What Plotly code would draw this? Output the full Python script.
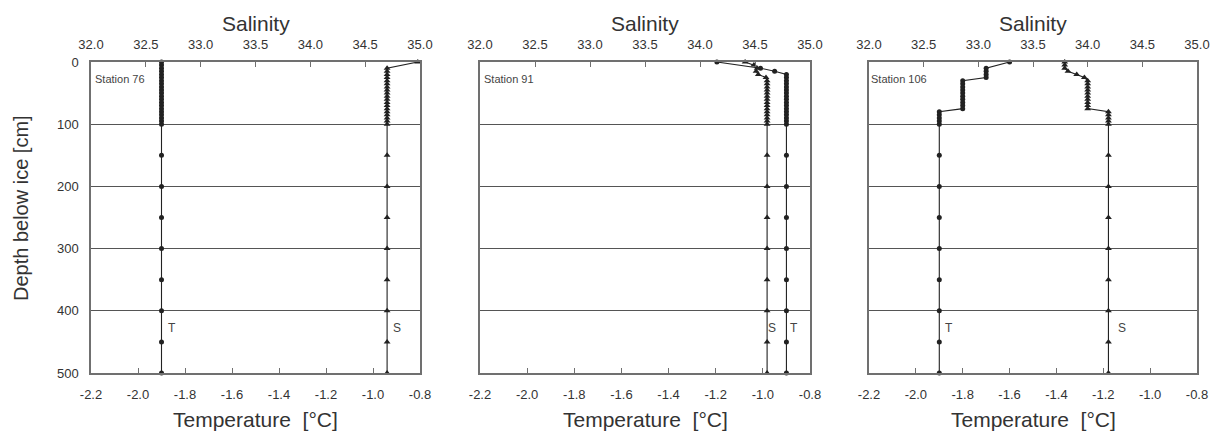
import plotly.graph_objects as go

# ---------------- data ----------------
stations = ["Station 76", "Station 91", "Station 106"]

# Station 76
depth76_T = [0, 5, 10, 15, 20, 25, 30, 35, 40, 45, 50, 55, 60, 65, 70, 75, 80, 85, 90, 95, 100,
             150, 200, 250, 300, 350, 400, 450, 500]
temp76 = [-1.90, -1.90, -1.90, -1.90, -1.90, -1.90, -1.90, -1.90, -1.90, -1.90, -1.90, -1.90,
          -1.90, -1.90, -1.90, -1.90, -1.90, -1.90, -1.90, -1.90, -1.90,
          -1.90, -1.90, -1.90, -1.90, -1.90, -1.90, -1.90, -1.90]
depth76_S = [0, 10, 15, 20, 25, 30, 35, 40, 45, 50, 55, 60, 65, 70, 75, 80, 85, 90, 95, 100,
             150, 200, 250, 300, 350, 400, 450, 500]
sal76 = [34.98, 34.70, 34.70, 34.70, 34.70, 34.70, 34.70, 34.70, 34.70, 34.70, 34.70, 34.70,
         34.70, 34.70, 34.70, 34.70, 34.70, 34.70, 34.70, 34.70,
         34.70, 34.70, 34.70, 34.70, 34.70, 34.70, 34.70, 34.70]

# Station 91
depth91_T = [0, 10, 15, 20, 25, 30, 35, 40, 45, 50, 55, 60, 65, 70, 75, 80, 85, 90, 95, 100,
             150, 200, 250, 300, 350, 400, 450, 500]
temp91 = [-1.195, -1.01, -0.95, -0.90, -0.90, -0.90, -0.90, -0.90, -0.90, -0.90, -0.90, -0.90,
          -0.90, -0.90, -0.90, -0.90, -0.90, -0.90, -0.90, -0.90,
          -0.90, -0.90, -0.90, -0.90, -0.90, -0.90, -0.90, -0.90]
depth91_S = [0, 5, 10, 15, 20, 25, 30, 35, 40, 45, 50, 55, 60, 65, 70, 75, 80, 85, 90, 95, 100,
             150, 200, 250, 300, 350, 400, 450, 500]
sal91 = [34.41, 34.49, 34.52, 34.51, 34.53, 34.60, 34.61, 34.61, 34.61, 34.61, 34.61, 34.61,
         34.61, 34.61, 34.61, 34.61, 34.61, 34.61, 34.61, 34.61, 34.61,
         34.61, 34.61, 34.61, 34.61, 34.61, 34.61, 34.61, 34.61]

# Station 106
depth106_T = [0, 10, 15, 20, 25, 30, 35, 40, 45, 50, 55, 60, 65, 70, 75, 80, 85, 90, 95, 100,
              150, 200, 250, 300, 350, 400, 450, 500]
temp106 = [-1.60, -1.70, -1.70, -1.70, -1.70, -1.80, -1.80, -1.80, -1.80, -1.80, -1.80, -1.80,
           -1.80, -1.80, -1.80, -1.90, -1.90, -1.90, -1.90, -1.90,
           -1.90, -1.90, -1.90, -1.90, -1.90, -1.90, -1.90, -1.90]
depth106_S = [0, 5, 10, 15, 20, 25, 30, 35, 40, 45, 50, 55, 60, 65, 70, 75, 80, 85, 90, 95, 100,
              150, 200, 250, 300, 350, 400, 450, 500]
sal106 = [33.79, 33.79, 33.79, 33.82, 33.90, 33.97, 34.00, 34.00, 34.00, 34.00, 34.00, 34.00,
          34.00, 34.00, 34.00, 34.00, 34.19, 34.19, 34.19, 34.19, 34.19,
          34.19, 34.19, 34.19, 34.19, 34.19, 34.19, 34.19, 34.19]

temp_depths = [depth76_T, depth91_T, depth106_T]
temps = [temp76, temp91, temp106]
sal_depths = [depth76_S, depth91_S, depth106_S]
sals = [sal76, sal91, sal106]

# label positions (temperature-axis units, depth)
T_label_x = [-1.855, -0.868, -1.858]
S_label_x = [-0.898, -0.961, -1.120]
label_depth = 428

temp_ticks = [-2.2, -2.0, -1.8, -1.6, -1.4, -1.2, -1.0, -0.8]
sal_ticks = [32.0, 32.5, 33.0, 33.5, 34.0, 34.5, 35.0]
depth_ticks = [0, 100, 200, 300, 400, 500]

# ---------------- layout geometry ----------------
W, H = 1229, 433
px_domains = [(91, 420), (480, 810), (869, 1197)]
ydom = [1 - 373 / H, 1 - 62 / H]

FONT = "Liberation Sans, Arial, Helvetica, sans-serif"
INK = "#222222"
FRAME = "#707070"

fig = go.Figure()
layout = dict(
    width=W, height=H,
    margin=dict(l=0, r=0, t=0, b=0, autoexpand=False),
    paper_bgcolor="white", plot_bgcolor="white",
    showlegend=False,
    font=dict(family=FONT, color="#333333"),
)

annotations = []
for i in range(3):
    tx = "x" if i == 0 else f"x{2 * i + 1}"
    sx = f"x{2 * i + 2}"
    yy = "y" if i == 0 else f"y{i + 1}"
    tkey = "xaxis" if i == 0 else f"xaxis{2 * i + 1}"
    skey = f"xaxis{2 * i + 2}"
    ykey = "yaxis" if i == 0 else f"yaxis{i + 1}"
    d0, d1 = px_domains[i]
    dom = [d0 / W, d1 / W]

    # temperature profile (dots)
    fig.add_trace(go.Scatter(
        x=temps[i], y=temp_depths[i], xaxis=tx, yaxis=yy,
        mode="lines+markers", cliponaxis=False,
        line=dict(color=INK, width=1.1),
        marker=dict(symbol="circle", size=5, color=INK),
        name="T"))
    # salinity profile (triangles)
    fig.add_trace(go.Scatter(
        x=sals[i], y=sal_depths[i], xaxis=sx, yaxis=yy,
        mode="lines+markers", cliponaxis=False,
        line=dict(color=INK, width=1.1),
        marker=dict(symbol="triangle-up", size=6, color=INK),
        name="S"))

    layout[tkey] = dict(
        domain=dom, anchor=yy, side="bottom", range=[-2.2, -0.8],
        tickmode="array", tickvals=temp_ticks,
        ticktext=[f"{v:.1f}" for v in temp_ticks],
        ticks="inside", ticklen=5, tickcolor=FRAME, tickwidth=1,
        ticklabelstandoff=9,
        tickfont=dict(size=13, color="#333333"),
        showgrid=False, zeroline=False, automargin=False,
        showline=True, linecolor=FRAME, linewidth=1.5, mirror=True,
    )
    layout[skey] = dict(
        overlaying=tx, anchor=yy, side="top", range=[32.0, 35.0],
        tickmode="array", tickvals=sal_ticks,
        ticktext=[f"{v:.1f}" for v in sal_ticks],
        ticks="inside", ticklen=5, tickcolor=FRAME, tickwidth=1,
        ticklabelstandoff=9,
        tickfont=dict(size=13, color="#333333"),
        showgrid=False, zeroline=False, showline=False, automargin=False,
    )
    layout[ykey] = dict(
        domain=ydom, anchor=tx, range=[500, 0],
        tickmode="array", tickvals=depth_ticks,
        showticklabels=(i == 0), ticks="",
        ticklabelstandoff=8,
        tickfont=dict(size=13, color="#333333"),
        showgrid=True, gridcolor="#555555", gridwidth=1.2,
        zeroline=False, showline=True, linecolor=FRAME, linewidth=1.5, mirror=True,
        automargin=False,
    )

    cx = (d0 + d1) / 2 / W
    annotations.append(dict(text="Salinity", xref="paper", yref="paper",
                            x=cx, y=1 - 23 / H, showarrow=False,
                            font=dict(size=21, color="#333333"),
                            xanchor="center", yanchor="middle"))
    annotations.append(dict(text="Temperature\u00a0\u00a0[°C]", xref="paper", yref="paper",
                            x=cx, y=1 - 419 / H, showarrow=False,
                            font=dict(size=21, color="#333333"),
                            xanchor="center", yanchor="middle"))
    annotations.append(dict(text=stations[i], xref="paper",
                            yref="paper", x=(d0 + 2 if i < 2 else d0) / W,
                            y=1 - 79 / H, showarrow=False,
                            font=dict(size=11, color="#444444"),
                            xanchor="left", yanchor="middle"))
    annotations.append(dict(text="T", xref=tx, yref=yy, x=T_label_x[i], y=label_depth,
                            showarrow=False, font=dict(size=12, color="#444444"),
                            xanchor="center", yanchor="middle"))
    annotations.append(dict(text="S", xref=tx, yref=yy, x=S_label_x[i], y=label_depth,
                            showarrow=False, font=dict(size=12, color="#444444"),
                            xanchor="center", yanchor="middle"))

annotations.append(dict(text="Depth below ice [cm]", xref="paper", yref="paper",
                        x=21 / W, y=1 - 208 / H, showarrow=False, textangle=-90,
                        font=dict(size=20, color="#333333"),
                        xanchor="center", yanchor="middle"))

layout["annotations"] = annotations
fig.update_layout(**layout)
fig.write_html("out.html")
